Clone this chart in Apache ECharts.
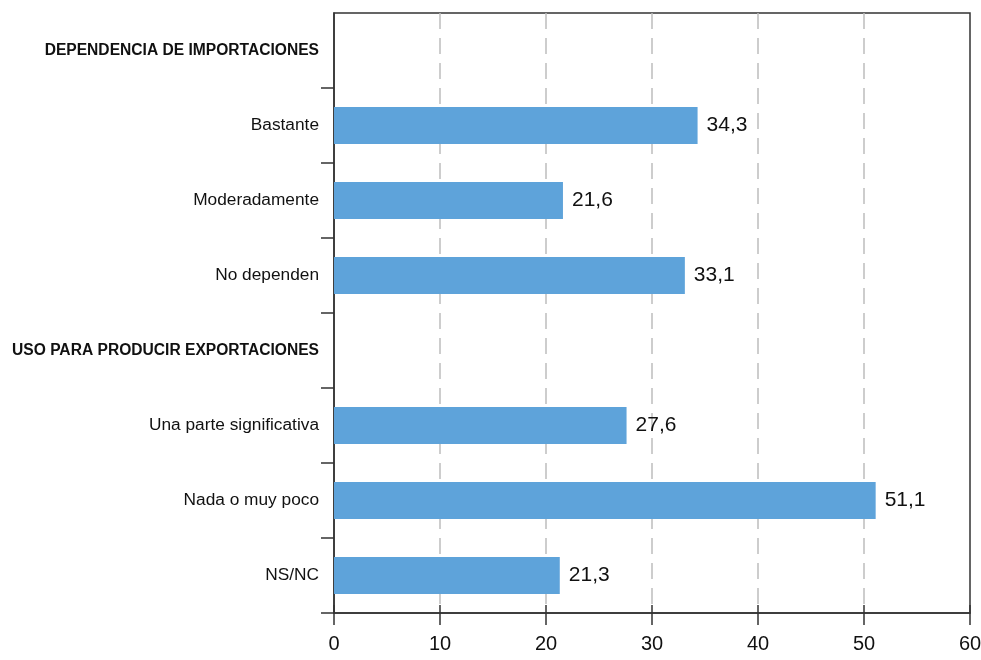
<!DOCTYPE html>
<html>
<head>
<meta charset="utf-8">
<script src="https://cdn.jsdelivr.net/npm/echarts@6/dist/echarts.min.js"></script>
<style>html,body{margin:0;padding:0;background:#fff}#c{width:981px;height:660px}</style>
</head>
<body>
<div id="c"></div>
<script>
const categories = ['DEPENDENCIA DE IMPORTACIONES', 'Bastante', 'Moderadamente', 'No dependen', 'USO PARA PRODUCIR EXPORTACIONES', 'Una parte significativa', 'Nada o muy poco', 'NS/NC'];
const headers = ['DEPENDENCIA DE IMPORTACIONES', 'USO PARA PRODUCIR EXPORTACIONES'];
const values = [null, 34.3, 21.6, 33.1, null, 27.6, 51.1, 21.3];
const xTicks = [0, 10, 20, 30, 40, 50, 60];

const FONT = "'Liberation Sans', Arial, Helvetica, sans-serif";
const chart = echarts.init(document.getElementById('c'), null, {renderer: 'canvas'});
chart.setOption({
  animation: false,
  textStyle: {fontFamily: FONT},
  grid: {left: 334, right: 11, top: 13, bottom: 47, outerBoundsMode: 'none', containLabel: false, show: true, borderColor: '#333', borderWidth: 1.5, backgroundColor: 'transparent'},
  xAxis: [{
    type: 'value', min: xTicks[0], max: xTicks[xTicks.length - 1], interval: 10,
    axisLine: {show: true, lineStyle: {color: '#333', width: 1.5}},
    axisTick: {show: true, length: 12, lineStyle: {color: '#333', width: 1.5}},
    axisLabel: {margin: 21, fontSize: 20, color: '#111', fontFamily: FONT, formatter: v => String(v)},
    splitLine: {show: true, showMinLine: false, showMaxLine: false, lineStyle: {color: '#bdbdbd', width: 1.5, type: [16, 9]}}
  }, {
    type: 'value', min: xTicks[0], max: xTicks[xTicks.length - 1], interval: 10, position: 'bottom',
    axisLine: {show: false},
    axisTick: {show: true, inside: true, length: 8, lineStyle: {color: '#333', width: 1.5}},
    axisLabel: {show: false},
    splitLine: {show: false}
  }],
  yAxis: {
    type: 'category', data: categories, inverse: true,
    axisLine: {show: true, lineStyle: {color: '#333', width: 1.5}},
    axisTick: {show: true, length: 13, lineStyle: {color: '#333', width: 1.5}, interval: (i) => i !== 0},
    axisLabel: {
      margin: 15, fontSize: 17.3, color: '#111', fontFamily: FONT, interval: 0,
      formatter: v => headers.includes(v) ? '{h|' + v + '}' : v,
      rich: {h: {fontSize: 15.6, fontWeight: 'bold', color: '#111', fontFamily: FONT}}
    }
  },
  series: [{
    type: 'bar', data: values, barWidth: 37, xAxisIndex: 0,
    itemStyle: {color: '#5ea3da'},
    label: {show: true, position: 'right', distance: 9, fontSize: 21, color: '#111', fontFamily: FONT,
      formatter: p => p.value == null ? '' : p.value.toFixed(1).replace('.', ',')}
  }]
});
</script>
</body>
</html>
